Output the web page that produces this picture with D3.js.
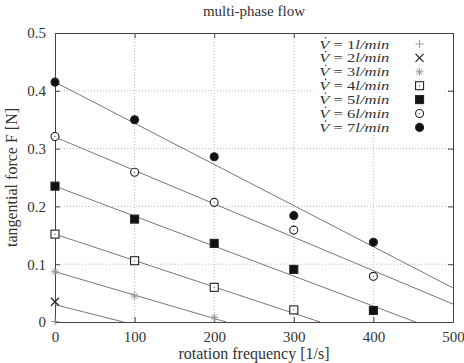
<!DOCTYPE html>
<html>
<head>
<meta charset="utf-8">
<script src="https://cdn.jsdelivr.net/npm/d3@7"></script>
<style>
  body { margin: 0; background: #fff; }
  text { font-family: "Liberation Serif", "DejaVu Serif", serif; fill: #333; }
</style>
</head>
<body>
<div id="chart"></div>
<script>
// measured points, rotation frequency [1/s] vs tangential force [N]
var freq = [0, 100, 200, 300, 400];
var flow = [1, 2, 3, 4, 5, 6, 7];
var f1 = [0.001, null, null, null, null];
var f2 = [0.035, null, null, null, null];
var f3 = [0.087, 0.045, 0.008, null, null];
var f4 = [0.152, 0.106, 0.060, 0.021, null];
var f5 = [0.235, 0.178, 0.136, 0.091, 0.020];
var f6 = [0.321, 0.259, 0.207, 0.159, 0.079];
var f7 = [0.415, 0.350, 0.286, 0.184, 0.138];
// fitted lines, start and end [freq, force]
var fit2 = [[0, 0.030], [86, 0]];
var fit3 = [[0, 0.087], [215, 0]];
var fit4 = [[0, 0.152], [333, 0]];
var fit5 = [[0, 0.235], [453, 0]];
var fit6 = [[0, 0.320], [500, 0.031]];
var fit7 = [[0, 0.415], [500, 0.059]];
var xTicks = [0, 100, 200, 300, 400, 500];
var yTicks = [0, 0.1, 0.2, 0.3, 0.4, 0.5];

var series = [f1, f2, f3, f4, f5, f6, f7];
var fits = [fit2, fit3, fit4, fit5, fit6, fit7];
var markers = ["plus", "cross", "star", "square", "fsquare", "circle", "fcircle"];

var width = 464, height = 363;
var margin = {top: 33, right: 11, bottom: 41, left: 55};
var w = width - margin.left - margin.right,
    h = height - margin.top - margin.bottom;

var svg = d3.select("#chart").append("svg")
    .attr("width", width)
    .attr("height", height);

svg.append("defs").append("clipPath").attr("id", "clip")
  .append("rect").attr("width", w).attr("height", h);

var g = svg.append("g").attr("transform", "translate(" + margin.left + "," + margin.top + ")");

var x = d3.scaleLinear().domain([0, 500]).range([0, w]);
var y = d3.scaleLinear().domain([0, 0.5]).range([h, 0]);

// grid
g.append("g").selectAll("line").data(xTicks.slice(1, -1)).enter().append("line")
  .attr("x1", d => x(d)).attr("x2", d => x(d)).attr("y1", 0).attr("y2", h)
  .attr("stroke", "#bbb").attr("stroke-dasharray", "1,2");
g.append("g").selectAll("line").data(yTicks.slice(1, -1)).enter().append("line")
  .attr("y1", d => y(d)).attr("y2", d => y(d)).attr("x1", 0).attr("x2", w)
  .attr("stroke", "#bbb").attr("stroke-dasharray", "1,2");

// axes with inward ticks on all sides
var fmtY = d => d === 0 ? "0" : d3.format(".1f")(d);
var axL = g.append("g").call(d3.axisLeft(y).tickValues(yTicks).tickSizeInner(-5).tickSizeOuter(0).tickPadding(9).tickFormat(fmtY));
var axB = g.append("g").attr("transform", "translate(0," + h + ")")
  .call(d3.axisBottom(x).tickValues(xTicks).tickSizeInner(-5).tickSizeOuter(0).tickPadding(9));
var axT = g.append("g").call(d3.axisTop(x).tickValues(xTicks).tickSizeInner(-5).tickSizeOuter(0).tickFormat(""));
var axR = g.append("g").attr("transform", "translate(" + w + ",0)")
  .call(d3.axisRight(y).tickValues(yTicks).tickSizeInner(-5).tickSizeOuter(0).tickFormat(""));
[axL, axB, axT, axR].forEach(function(a) {
  a.select(".domain").attr("stroke", "#444");
  a.selectAll(".tick line").attr("stroke", "#444");
  a.selectAll("text").style("font-family", "Liberation Serif").style("font-size", "15px").attr("fill", "#333");
});

// legend box covers grid
var lg = g.append("g").attr("transform", "translate(" + x(325) + ",1)");
lg.append("rect").attr("x", 0).attr("y", 0).attr("width", x(490) - x(325)).attr("height", 100).attr("fill", "#fff");

// fitted lines
g.append("g").attr("clip-path", "url(#clip)").selectAll("line").data(fits).enter().append("line")
  .attr("x1", d => x(d[0][0])).attr("y1", d => y(d[0][1]))
  .attr("x2", d => x(d[1][0])).attr("y2", d => y(d[1][1]))
  .attr("stroke", "#777").attr("stroke-width", 1);

function marker(sel, type) {
  var s = 4;
  if (type == "plus") {
    sel.append("path").attr("d", "M-" + s + ",0H" + s + "M0,-" + s + "V" + s).attr("stroke", "#999").attr("fill", "none");
  } else if (type == "cross") {
    sel.append("path").attr("d", "M-4,-4L4,4M-4,4L4,-4").attr("stroke", "#222").attr("stroke-width", 1.2).attr("fill", "none");
  } else if (type == "star") {
    sel.append("path").attr("d", "M-4,0H4M0,-4V4M-3,-3L3,3M-3,3L3,-3").attr("stroke", "#999").attr("fill", "none");
  } else if (type == "square" || type == "fsquare") {
    sel.append("rect").attr("x", -4).attr("y", -4).attr("width", 8).attr("height", 8)
      .attr("fill", type == "fsquare" ? "#111" : "#fff").attr("stroke", "#222").attr("stroke-width", 1.1);
    if (type == "square") sel.append("circle").attr("r", 0.6).attr("fill", "#333");
  } else {
    sel.append("circle").attr("r", 4)
      .attr("fill", type == "fcircle" ? "#111" : "#fff").attr("stroke", "#222").attr("stroke-width", 1.1);
    if (type == "circle") sel.append("circle").attr("r", 0.6).attr("fill", "#333");
  }
}

// points
series.forEach(function(vals, i) {
  var pts = freq.map((f, j) => [f, vals[j]]).filter(d => d[1] != null);
  pts.forEach(function(p) {
    var m = g.append("g").attr("transform", "translate(" + x(p[0]) + "," + y(p[1]) + ")");
    marker(m, markers[i]);
  });
});

// legend entries (tight rows, stretched glyphs like the TeX math font)
var tx = x(420) - x(325);
flow.forEach(function(v, i) {
  var yy = 10 + i * 13.9;
  var row = lg.append("g").attr("transform", "translate(0," + yy + ")");
  var t = row.append("text").attr("x", tx).attr("y", 4.5)
    .attr("text-anchor", "end").style("font-size", "12.3px")
    .attr("textLength", 70).attr("lengthAdjust", "spacingAndGlyphs");
  t.append("tspan").style("font-style", "italic").text("V");
  t.append("tspan").text(" = " + v);
  t.append("tspan").style("font-style", "italic").text("l/min");
  // dot over V
  var ext = t.node().getExtentOfChar(0);
  row.append("circle").attr("cx", ext.x + ext.width * 0.62).attr("cy", -6.3).attr("r", 0.8).attr("fill", "#333");
  var m = row.append("g").attr("transform", "translate(" + (x(458) - x(325)) + ",0)");
  marker(m, markers[i]);
});

// titles
svg.append("text").attr("x", margin.left + w / 2).attr("y", 16)
  .attr("text-anchor", "middle").style("font-size", "15px").text("multi-phase flow");
svg.append("text").attr("x", margin.left + w / 2).attr("y", 359)
  .attr("text-anchor", "middle").style("font-size", "16px").text("rotation frequency [1/s]");
svg.append("text").attr("transform", "translate(17," + (margin.top + h / 2) + ") rotate(-90)")
  .attr("text-anchor", "middle").style("font-size", "16px").text("tangential force F [N]");
</script>
</body>
</html>
